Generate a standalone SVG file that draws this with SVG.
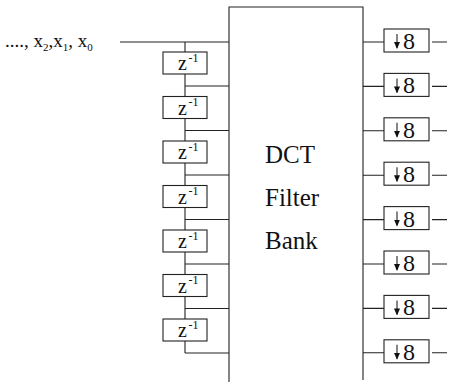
<svg xmlns="http://www.w3.org/2000/svg" width="449" height="382" viewBox="0 0 449 382">
<style>
.ln{stroke:#222;stroke-width:1.1;fill:none}
.bx{stroke:#222;stroke-width:1.1;fill:#fff}
.t{font-family:"Liberation Serif","Times New Roman",serif;fill:#111}
.z{font-size:20px}
.sup{font-size:12px}
.big{font-size:25px}
.eight{font-size:24px}
.in{font-size:19px}
.sub{font-size:11px}
</style>
<defs>
<marker id="ah" markerWidth="7" markerHeight="6" refX="6" refY="3" orient="auto" markerUnits="userSpaceOnUse">
<path d="M0,0 L7,3 L0,6 Z" fill="#111"/>
</marker>
<g id="dz">
<rect class="bx" x="0" y="0" width="44" height="22"/>
<text class="t z" x="15" y="18">z</text>
<text class="t sup" x="25.5" y="9.5">-1</text>
</g>
<g id="d8">
<rect class="bx" x="0" y="0" width="45" height="23"/>
<line class="ln" x1="13" y1="5" x2="13" y2="19" marker-end="url(#ah)"/>
<text class="t eight" x="19" y="20">8</text>
</g>
</defs>

<g id="input">
<text class="t in" x="5" y="47">...., x<tspan class="sub" dy="4">2</tspan><tspan dy="-4">,x</tspan><tspan class="sub" dy="4">1</tspan><tspan dy="-4">, x</tspan><tspan class="sub" dy="4">0</tspan></text>
</g>

<g id="connectors">
<line class="ln" x1="120" y1="42" x2="229" y2="42"/>
<path class="ln" d="M185,42 V52 M185,74 V96.5 M185,118.5 V141 M185,163 V185.5 M185,207.5 V230 M185,252 V274.5 M185,296.5 V319 M185,341 V353"/>
<path class="ln" d="M185,86 H229 M185,130.5 H229 M185,175 H229 M185,219.5 H229 M185,264 H229 M185,308.5 H229 M185,353 H229"/>
<path class="ln" d="M363,42 H384 M363,86.4 H384 M363,130.8 H384 M363,175.2 H384 M363,219.6 H384 M363,264 H384 M363,308.4 H384 M363,352.8 H384"/>
<path class="ln" d="M432,42 H447 M432,86.4 H447 M432,130.8 H447 M432,175.2 H447 M432,219.6 H447 M432,264 H447 M432,308.4 H447 M432,352.8 H447"/>
</g>

<g id="delay1"><use href="#dz" x="163" y="52"/></g>
<g id="delay2"><use href="#dz" x="163" y="96.5"/></g>
<g id="delay3"><use href="#dz" x="163" y="141"/></g>
<g id="delay4"><use href="#dz" x="163" y="185.5"/></g>
<g id="delay5"><use href="#dz" x="163" y="230"/></g>
<g id="delay6"><use href="#dz" x="163" y="274.5"/></g>
<g id="delay7"><use href="#dz" x="163" y="319"/></g>

<g id="dct">
<path class="ln" d="M229,382 V7 H363 V380"/>
<text class="t big" x="265" y="163">DCT</text>
<text class="t big" x="265" y="206">Filter</text>
<text class="t big" x="265" y="249">Bank</text>
</g>

<g id="down1"><use href="#d8" x="384" y="29"/></g>
<g id="down2"><use href="#d8" x="384" y="73.4"/></g>
<g id="down3"><use href="#d8" x="384" y="117.8"/></g>
<g id="down4"><use href="#d8" x="384" y="162.2"/></g>
<g id="down5"><use href="#d8" x="384" y="206.6"/></g>
<g id="down6"><use href="#d8" x="384" y="251"/></g>
<g id="down7"><use href="#d8" x="384" y="295.4"/></g>
<g id="down8"><use href="#d8" x="384" y="339.8"/></g>
</svg>
